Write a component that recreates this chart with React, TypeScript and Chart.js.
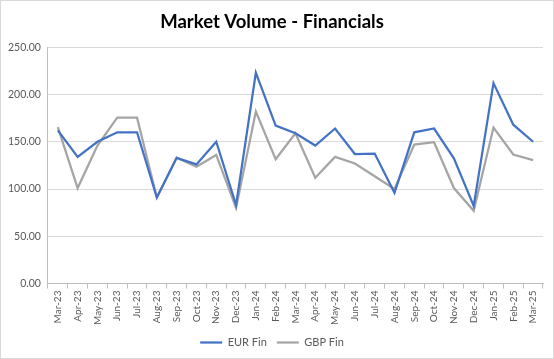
import React, { useEffect, useRef } from "react";
import { Chart, registerables } from "chart.js";
Chart.register(...registerables);

const categories = [
  "Mar-23", "Apr-23", "May-23", "Jun-23", "Jul-23", "Aug-23", "Sep-23", "Oct-23", "Nov-23", "Dec-23",
  "Jan-24", "Feb-24", "Mar-24", "Apr-24", "May-24", "Jun-24", "Jul-24", "Aug-24", "Sep-24", "Oct-24",
  "Nov-24", "Dec-24", "Jan-25", "Feb-25", "Mar-25",
];
const eurFin = [162, 134, 150, 160, 160, 91, 133, 126, 150, 83, 223, 167, 159, 146, 164, 137, 137.5, 96, 160, 164, 132.5, 82, 212, 168, 150];
const gbpFin = [165.5, 101, 146, 175.5, 175.5, 91, 133, 123.5, 136, 80, 182, 131.5, 159, 112, 134, 127, 113.5, 100, 147, 149.5, 101, 77, 165, 136.5, 130.5];
const yMin = 0;
const yMax = 250;
const yStep = 50;

const FONT = "Lato, 'Open Sans', sans-serif";

export default function App() {
  const ref = useRef<HTMLCanvasElement | null>(null);
  useEffect(() => {
    if (!ref.current) return;
    const chart = new Chart(ref.current, {
      type: "line",
      data: {
        labels: categories,
        datasets: [
          { label: "EUR Fin", data: eurFin, borderColor: "#4472C4", backgroundColor: "#4472C4", borderWidth: 2.25, pointRadius: 0, tension: 0 },
          { label: "GBP Fin", data: gbpFin, borderColor: "#A5A5A5", backgroundColor: "#A5A5A5", borderWidth: 2.25, pointRadius: 0, tension: 0 },
        ],
      },
      options: {
        animation: false,
        responsive: false,
        maintainAspectRatio: false,
        layout: { padding: { left: 0, right: 10, top: 0, bottom: 0 } },
        plugins: {
          title: {
            display: true,
            text: "Market Volume - Financials",
            color: "#000000",
            font: { family: FONT, size: 18.5, weight: "bold" },
            padding: { top: 10, bottom: 14 },
          },
          legend: {
            position: "bottom",
            labels: {
              usePointStyle: true,
              pointStyle: "line",
              pointStyleWidth: 22,
              color: "#595959",
              font: { family: FONT, size: 11 },
              padding: 10,
            },
          },
          tooltip: { enabled: false },
        },
        scales: {
          x: {
            offset: true,
            grid: { display: true, drawOnChartArea: false, drawTicks: true, tickLength: 5, color: "#BFBFBF", offset: true },
            border: { display: true, color: "#BFBFBF" },
            ticks: { color: "#595959", font: { family: FONT, size: 10 }, minRotation: 90, maxRotation: 90, autoSkip: false, padding: 2 },
          },
          y: {
            min: yMin,
            max: yMax,
            grid: { color: "#D9D9D9", drawTicks: false },
            border: { display: true, color: "#BFBFBF" },
            ticks: { stepSize: yStep, color: "#595959", font: { family: FONT, size: 10.5 }, padding: 7, callback: (v: any) => Number(v).toFixed(2) },
          },
        },
      },
    });
    return () => chart.destroy();
  }, []);
  return (
    <div style={{ position: "fixed", left: 0, top: 0, width: 554, height: 359, boxSizing: "border-box", border: "1px solid #D9D9D9", background: "#fff" }}>
      <canvas ref={ref} width={552} height={357} style={{ display: "block" }} />
    </div>
  );
}
